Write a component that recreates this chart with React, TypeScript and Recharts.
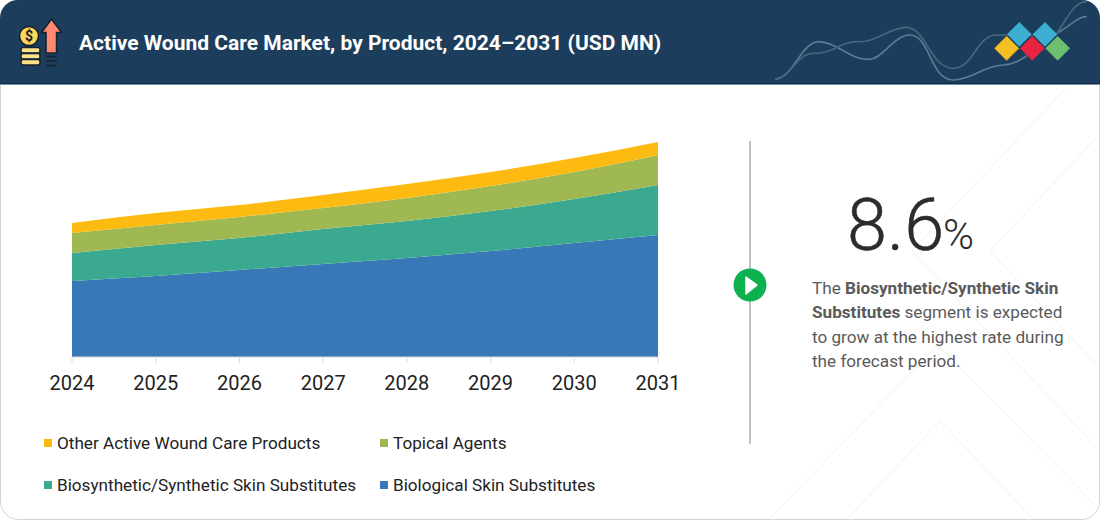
import { AreaChart, Area, XAxis, YAxis, Legend } from 'recharts'

const years = ['2024', '2025', '2026', '2027', '2028', '2029', '2030', '2031']
const biological = [76, 81, 87, 93, 99, 106, 114, 122]
const biosynthetic = [28, 31, 32, 35, 37, 40, 44, 50]
const topical = [20, 20, 21, 21, 23, 25, 27, 30]
const other = [10, 12, 12, 13, 14, 14, 14, 13]

const chartData = years.map((year, i) => ({
  year,
  biological: biological[i],
  biosynthetic: biosynthetic[i],
  topical: topical[i],
  other: other[i],
}))

const legendRows = [
  [
    { name: 'Other Active Wound Care Products', color: '#FDBB12' },
    { name: 'Topical Agents', color: '#9FB852' },
  ],
  [
    { name: 'Biosynthetic/Synthetic Skin Substitutes', color: '#3AA990' },
    { name: 'Biological Skin Substitutes', color: '#3878B6' },
  ],
]

const FONT = 'Roboto, sans-serif'

function ChartLegend() {
  return (
    <div style={{ fontFamily: FONT, fontSize: 17.15, color: '#222' }}>
      {legendRows.map((row, r) => (
        <div key={r} style={{ display: 'flex', height: 42, alignItems: 'center' }}>
          {row.map((item, c) => (
            <div key={item.name} style={{ display: 'flex', alignItems: 'center', width: c === 0 ? 336 : 260 }}>
              <span style={{ width: 8, height: 8, background: item.color, marginRight: 5 }} />
              <span style={{ whiteSpace: 'nowrap' }}>{item.name}</span>
            </div>
          ))}
        </div>
      ))}
    </div>
  )
}

function Backdrop() {
  return (
    <svg width={1100} height={521} style={{ position: 'absolute', left: 0, top: 0 }}>
      <rect x={0.5} y={0.5} width={1099} height={519} rx={18} fill="#fff" stroke="#d4d4d4" />
      <g fill="none" stroke="#f0f0f0" strokeWidth={1}>
        <path d="M770 518 L938 345 L1097 507" />
        <path d="M848 518 L940 421 L1032 518" />
        <path d="M1067 87 L912 251 L1097 448" />
        <path d="M1097 137 L990 251 L1097 365" />
      </g>
      <path d="M18 0 H1082 A18 18 0 0 1 1100 18 V84 H0 V18 A18 18 0 0 1 18 0 Z" fill="#1D3D5C" />
      <rect x={0} y={83} width={1100} height={1} fill="#0F2A45" />
      <rect x={0} y={84} width={1100} height={1} fill="#7890A8" />

      {/* coins and arrow icon */}
      <g stroke="#14222f" strokeWidth={1.5}>
        <circle cx={29} cy={36} r={9.5} fill="#FBD75B" />
        <rect x={21} y={47.5} width={19} height={5.5} rx={2} fill="#FBE08A" />
        <rect x={21} y={53.5} width={19} height={5.5} rx={2} fill="#FBE08A" />
        <rect x={21} y={59.5} width={19} height={5.5} rx={2} fill="#FBE08A" />
        <path d="M51.5 19 L61.5 32.5 L56.5 32.5 L56.5 53 L46 53 L46 32.5 L41.5 32.5 Z" fill="#FF8A70" />
        <path d="M46 56.5 H56.5 M46 61 H56.5 M46 65.5 H56.5" fill="none" />
      </g>
      <text x={29} y={41} textAnchor="middle" fontFamily={FONT} fontWeight={700} fontSize={14} fill="#14222f">$</text>

      <g transform="translate(750 0) scale(0.3333)" fill="none" strokeWidth={5}>
        <path stroke="#5D7B95" d="M75 238 C130 235 150 130 205 125 C260 125 300 180 355 178 C400 178 430 105 480 105 C540 105 540 240 610 240 C680 235 690 200 760 195 C830 190 860 130 920 100 C960 80 980 50 1010 50" />
        <path stroke="#48677F" d="M75 238 C120 235 140 160 190 160 C240 165 270 125 320 125 C380 130 420 80 470 82 C530 85 540 205 610 205 C670 205 680 105 740 105 C800 105 850 110 920 100 C950 60 970 5 1010 5" />
        <g stroke="#1D3D5C" strokeWidth={2}>
          <path fill="#F5BE22" d="M770 107 L808 145 L770 183 L732 145 Z" />
          <path fill="#3BAED2" d="M808 65 L846 103 L808 141 L770 103 Z" />
          <path fill="#E8233F" d="M847 107 L885 145 L847 183 L809 145 Z" />
          <path fill="#3BAED2" d="M885 65 L923 103 L885 141 L847 103 Z" />
          <path fill="#6CC070" d="M923 107 L961 145 L923 183 L885 145 Z" />
        </g>
      </g>

      <text x={79} y={50} fontFamily={FONT} fontWeight={700} fontSize={21} fill="#fff">
        Active Wound Care Market, by Product, 2024–2031 (USD MN)
      </text>

      <line x1={750} y1={141} x2={750} y2={444} stroke="#ababab" strokeWidth={1.5} />
      <circle cx={750} cy={285} r={16.5} fill="#0DB14F" />
      <path d="M746 277 L757 285 L746 294 Z" fill="#fff" stroke="#fff" strokeWidth={1.5} strokeLinejoin="round" />

      <text x={847} y={250} fontFamily={FONT} fontWeight={300} fontSize={72} fill="#2c2c2c" stroke="#2c2c2c" strokeWidth={0.5}>8.6</text>
      <text x={943} y={249} fontFamily={FONT} fontWeight={300} fontSize={42} fill="#2c2c2c">%</text>

      <g fontFamily={FONT} fontSize={17.15} fill="#5a5a5a">
        <text x={812} y={294}>The <tspan fontWeight={700}>Biosynthetic/Synthetic Skin</tspan></text>
        <text x={812} y={318}><tspan fontWeight={700}>Substitutes</tspan> segment is expected</text>
        <text x={812} y={343}>to grow at the highest rate during</text>
        <text x={812} y={367}>the forecast period.</text>
      </g>
    </svg>
  )
}

export default function App() {
  return (
    <div style={{ position: 'absolute', left: 0, top: 0, width: 1100, height: 521, overflow: 'hidden', background: '#fff' }}>
      <Backdrop />
      <div style={{ position: 'absolute', left: 0, top: 0 }}>
        <AreaChart width={720} height={521} data={chartData} margin={{ top: 142, right: 62, bottom: 50, left: 72 }}>
          <XAxis
            dataKey="year"
            height={30}
            interval={0}
            stroke="#d9d9d9"
            tickSize={6}
            tickMargin={13}
            tick={{ fill: '#222', fontSize: 20, fontFamily: FONT }}
          />
          <YAxis hide domain={[0, 215]} />
          <Area type="monotone" dataKey="biological" stackId="1" stroke="none" fill="#3878B6" fillOpacity={1} isAnimationActive={false} />
          <Area type="monotone" dataKey="biosynthetic" stackId="1" stroke="none" fill="#3AA990" fillOpacity={1} isAnimationActive={false} />
          <Area type="monotone" dataKey="topical" stackId="1" stroke="none" fill="#9FB852" fillOpacity={1} isAnimationActive={false} />
          <Area type="monotone" dataKey="other" stackId="1" stroke="none" fill="#FDBB12" fillOpacity={1} isAnimationActive={false} />
          <Legend
            content={<ChartLegend />}
            wrapperStyle={{ position: 'absolute', left: 44, top: 422, width: 600 }}
          />
        </AreaChart>
      </div>
    </div>
  )
}
